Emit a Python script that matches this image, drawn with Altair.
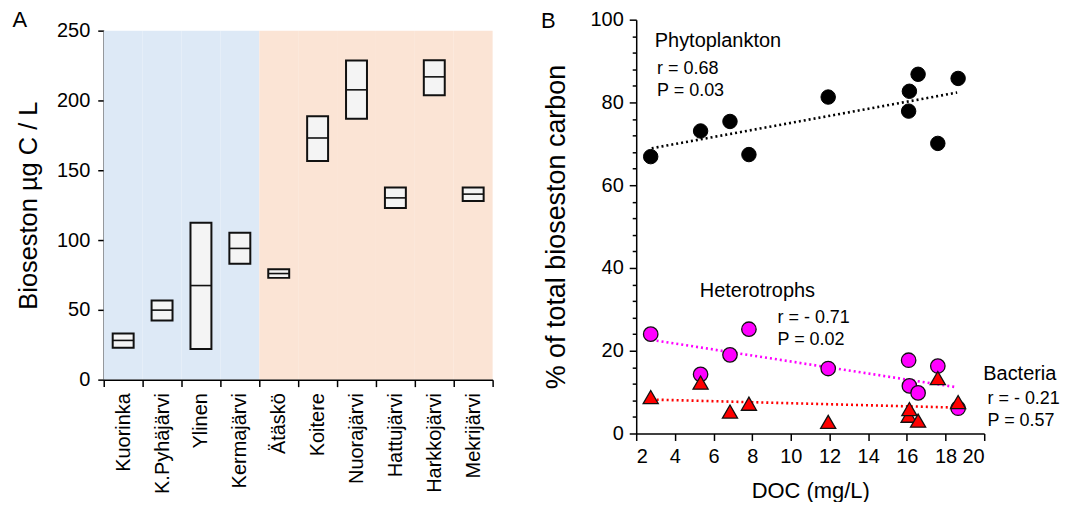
import altair as alt
import pandas as pd

# ---------------- Panel A data ----------------
lakes = ["Kuorinka", "K.Pyhäjärvi", "Ylinen", "Kermajärvi", "Ätäskö",
         "Koitere", "Nuorajärvi", "Hattujärvi", "Harkkojärvi", "Mekrijärvi"]
lake_group = ["clear", "clear", "clear", "clear",
              "humic", "humic", "humic", "humic", "humic", "humic"]
box_low = [22.9, 42.4, 21.9, 83.1, 72.9, 156.7, 186.9, 122.9, 203.8, 127.9]
box_mid = [28.1, 49.8, 67.4, 94.0, 76.0, 173.1, 207.6, 130.2, 216.9, 132.9]
box_high = [33.1, 56.7, 112.4, 105.2, 79.0, 188.6, 228.6, 137.6, 228.8, 137.6]

# ---------------- Panel B data ----------------
doc = [2.75, 5.33, 6.85, 7.83, 11.93, 16.09, 16.13, 16.58, 17.60, 18.65]
phyto = [66.9, 73.1, 75.4, 67.4, 81.3, 77.9, 82.7, 86.8, 70.1, 85.8]
hetero = [24.0, 14.3, 19.0, 25.2, 15.7, 17.7, 11.5, 9.8, 16.3, 6.1]
bact = [8.8, 12.3, 5.3, 7.2, 2.8, 4.3, 5.9, 3.1, 13.4, 7.6]

labels_head = ["Phytoplankton", "Heterotrophs", "Bacteria"]
head_x = [2.96, 5.29, 19.95]
head_y = [93.4, 32.9, 12.85]
labels_stat = ["r = 0.68", "P = 0.03", "r = - 0.71", "P = 0.02", "r = - 0.21", "P = 0.57"]
stat_x = [3.08, 3.08, 9.31, 9.31, 20.17, 20.17]
stat_y = [86.8, 81.5, 26.7, 21.4, 7.2, 1.85]

FONT = "Liberation Sans"

dfA = pd.DataFrame({"lake": lakes, "group": lake_group,
                    "low": box_low, "mid": box_mid, "high": box_high})

xA = alt.X("lake:N", sort=lakes,
           scale=alt.Scale(paddingInner=0, paddingOuter=0),
           axis=alt.Axis(title=None, labelAngle=-90, labelFontSize=20,
                         tickBand="extent", tickSize=7, labelPadding=6,
                         labelOverlap=False,
                         domainColor="black", tickColor="black",
                         labelColor="black", domainWidth=1.5, tickWidth=1.5))
# panel A plot sits 11px lower than panel B's: the scale range leaves that gap on top
yscaleA = alt.Scale(domain=[0, 250], nice=False, range=[361, 11])
yaxisA = alt.Axis(title="Bioseston µg C / L", values=[0, 50, 100, 150, 200, 250],
                  titleFontSize=25.5, titleFontWeight="normal", titleColor="black",
                  labelFontSize=20, labelColor="black", tickSize=6, labelPadding=8,
                  labelOverlap=False,
                  titlePadding=15, domainColor="black", tickColor="black",
                  domainWidth=1.5, tickWidth=1.5, grid=False)
yA = alt.Y("low:Q", scale=yscaleA, axis=yaxisA)

bg = alt.Chart(dfA).mark_rect().encode(
    x=xA,
    y=alt.Y(datum=0, type="quantitative", scale=yscaleA, axis=yaxisA),
    y2=alt.Y2(datum=250),
    color=alt.Color("group:N", scale=alt.Scale(domain=["clear", "humic"],
                                               range=["#dde9f6", "#fbe4d5"]),
                    legend=None),
)
boxes = alt.Chart(dfA).mark_bar(size=21, fill="#f4f4f4", stroke="#111111",
                                strokeWidth=2, opacity=1).encode(
    x=xA,
    y=yA,
    y2="high:Q",
)
meds = alt.Chart(dfA).mark_tick(orient="horizontal", size=21, thickness=1.6,
                                color="#111111", opacity=1).encode(
    x=xA,
    y=alt.Y("mid:Q", scale=yscaleA, axis=yaxisA),
)
panelA = alt.layer(bg, boxes, meds).properties(
    width=390, height=361,
    title=alt.TitleParams("A", anchor="start", frame="bounds", fontSize=22,
                          fontWeight="normal", color="black", offset=-12, dx=-4),
)

# ---------------- Panel B ----------------
rows = []
for name, vals in [("Phytoplankton", phyto), ("Heterotrophs", hetero), ("Bacteria", bact)]:
    for d, v in zip(doc, vals):
        rows.append({"doc": d, "pct": v, "grp": name})
dfB = pd.DataFrame(rows)

xscaleB = alt.Scale(domain=[2, 20], nice=False)
yscaleB = alt.Scale(domain=[0, 100], nice=False)
xaxisB = alt.Axis(title="DOC (mg/L)", values=list(range(2, 21, 2)),
                  titleFontSize=22, titleFontWeight="normal", titleColor="black",
                  labelFontSize=20, labelColor="black", tickSize=7,
                  labelOverlap=False,
                  labelPadding=6, titlePadding=14, domainColor="black",
                  tickColor="black", domainWidth=1.5, tickWidth=1.5, grid=False)
yaxisB = alt.Axis(title="% of total bioseston carbon", values=list(range(0, 101, 4)),
                  labelExpr="datum.value % 20 === 0 ? datum.label : ''",
                  tickSize={"condition": {"test": "datum.value % 20 === 0", "value": 7},
                            "value": 4},
                  labelOverlap=False,
                  titleFontSize=27, titleFontWeight="normal", titleColor="black",
                  labelFontSize=20, labelColor="black", labelPadding=6,
                  titlePadding=20, domainColor="black", tickColor="black",
                  domainWidth=1.5, tickWidth=1.5, grid=False)


def xB(field):
    return alt.X(field, type="quantitative", scale=xscaleB, axis=xaxisB)


def yB(field):
    return alt.Y(field, type="quantitative", scale=yscaleB, axis=yaxisB)


base = alt.Chart(dfB)


def trend(grp, color):
    return base.transform_filter(alt.datum.grp == grp).transform_regression(
        "doc", "pct", extent=[2.8, 18.6]
    ).mark_line(color=color, strokeDash=[2, 3], strokeWidth=2.6).encode(
        x=xB("doc"), y=yB("pct"))


tr_p = trend("Phytoplankton", "black")
tr_h = trend("Heterotrophs", "#ff00ff")
tr_b = trend("Bacteria", "#ff0000")

pts_p = base.transform_filter(alt.datum.grp == "Phytoplankton").mark_point(
    shape="circle", filled=True, fill="black", stroke="black", strokeWidth=1,
    size=210, opacity=1).encode(x=xB("doc"), y=yB("pct"))
pts_h = base.transform_filter(alt.datum.grp == "Heterotrophs").mark_point(
    shape="circle", filled=True, fill="#ff00ff", stroke="#111111", strokeWidth=1.3,
    size=210, opacity=1).encode(x=xB("doc"), y=yB("pct"))
pts_b = base.transform_filter(alt.datum.grp == "Bacteria").mark_point(
    shape="triangle-up", filled=True, fill="#ff0000", stroke="#111111", strokeWidth=1.3,
    size=230, opacity=1).encode(x=xB("doc"), y=yB("pct"))

dfHead = pd.DataFrame({"t": labels_head, "x": head_x, "y": head_y})
dfStat = pd.DataFrame({"t": labels_stat, "x": stat_x, "y": stat_y})
txt_head = alt.Chart(dfHead).mark_text(align="left", baseline="alphabetic",
                                       fontSize=20, color="black").encode(
    x=xB("x"), y=yB("y"), text="t:N")
txt_stat = alt.Chart(dfStat).mark_text(align="left", baseline="alphabetic",
                                       fontSize=18, color="black").encode(
    x=xB("x"), y=yB("y"), text="t:N")

panelB = alt.layer(tr_p, tr_h, tr_b, pts_p, pts_h, pts_b, txt_head, txt_stat).properties(
    width=349, height=415,
    title=alt.TitleParams("B", anchor="start", frame="bounds", fontSize=22,
                          fontWeight="normal", color="black", offset=-23, dx=-1),
)

chart = alt.hconcat(panelA, panelB, spacing=47).properties(
    padding={"left": 4, "top": 0, "right": 0, "bottom": 0}
).configure(font=FONT).configure_view(stroke=None).configure_axis(labelOverlap=False)

chart.save("out.html", embed_options={"renderer": "svg", "actions": False})
